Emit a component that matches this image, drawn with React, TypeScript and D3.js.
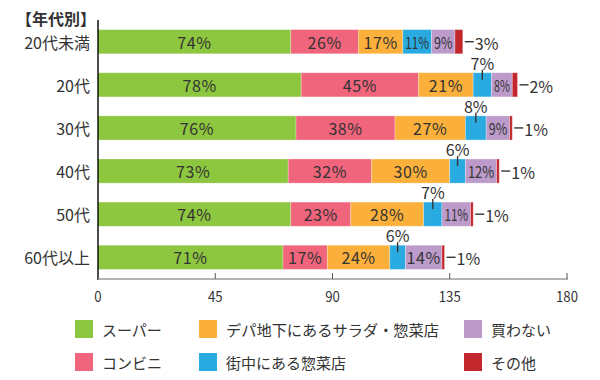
import React from "react";
import * as d3 from "d3";

const categories = ["20代未満", "20代", "30代", "40代", "50代", "60代以上"];
const seriesNames = ["スーパー", "コンビニ", "デパ地下にあるサラダ・惣菜店", "街中にある惣菜店", "買わない", "その他"];
const supermarket = [74, 78, 76, 73, 74, 71];
const convenience = [26, 45, 38, 32, 23, 17];
const depachika = [17, 21, 27, 30, 28, 24];
const streetShop = [11, 7, 8, 6, 7, 6];
const notBuy = [9, 8, 9, 12, 11, 14];
const other = [3, 2, 1, 1, 1, 1];
const xTicks = [0, 45, 90, 135, 180];

const colors = ["#8dc63f", "#f0647c", "#fbb03b", "#29abe2", "#bc9bca", "#c1272d"];
const series = [supermarket, convenience, depachika, streetShop, notBuy, other];

const FONT = "'Noto Sans CJK JP', 'Noto Sans', sans-serif";
const TXT = "#333";

export default function App() {
  const W = 600, H = 380;
  const x = d3.scaleLinear().domain([0, 180]).range([98, 567]);
  const y = d3.scaleBand().domain(categories).range([21, 278]).paddingInner(0.44).paddingOuter(0.2);
  const bh = y.bandwidth();

  const legendPos = [
    { x: 75, y: 320 }, { x: 75, y: 353 },
    { x: 199, y: 320 }, { x: 199, y: 353 },
    { x: 464, y: 320 }, { x: 464, y: 353 },
  ];

  return (
    <svg width={W} height={H} style={{ position: "absolute", left: 0, top: 0, fontFamily: FONT }}>
      <rect width={W} height={H} fill="#fff" />
      <text x={16} y={18} fontSize={16} fontWeight="bold" fill={TXT} dominantBaseline="central">【年代別】</text>
      {categories.map((c, i) => {
        const yy = y(c)!;
        let cum = 0;
        const segs = series.map((s, k) => {
          const v = s[i];
          const x0 = x(cum), x1 = x(cum + v);
          cum += v;
          return { v, x0, x1, k };
        });
        return (
          <g key={c}>
            <text x={90} y={yy + bh / 2} fontSize={16} fill={TXT} textAnchor="end" dominantBaseline="central">{c}</text>
            {segs.map((sg) => (
              <rect key={sg.k} x={sg.x0} y={yy} width={sg.x1 - sg.x0} height={bh} fill={colors[sg.k]}
                stroke="#fff" strokeOpacity={0.35} strokeWidth={0.8} />
            ))}
            {segs.map((sg) => {
              const cx = (sg.x0 + sg.x1) / 2;
              const label = `${sg.v}%`;
              const w = sg.x1 - sg.x0;
              if (sg.k === 5) {
                return (
                  <g key={sg.k}>
                    <line x1={sg.x1 + 2} x2={sg.x1 + 11} y1={yy + bh / 2} y2={yy + bh / 2} stroke={TXT} strokeWidth={1.4} />
                    <text x={sg.x1 + 12} y={yy + bh / 2 + 1} fontSize={16} fill={TXT} dominantBaseline="central">{label}</text>
                  </g>
                );
              }
              if (sg.k === 3 && sg.v < 10) {
                return (
                  <g key={sg.k}>
                    <line x1={cx} x2={cx} y1={yy - 3} y2={yy + 7} stroke={TXT} strokeWidth={1.4} />
                    <text x={cx} y={yy - 10} fontSize={16} fill={TXT} textAnchor="middle" dominantBaseline="central">{label}</text>
                  </g>
                );
              }
              const small = w < 32;
              return (
                <text key={sg.k} x={cx} y={yy + bh / 2} fontSize={16} fill={TXT}
                  textAnchor="middle" dominantBaseline="central"
                  textLength={small ? w - 5 : undefined} lengthAdjust="spacingAndGlyphs"
                  letterSpacing={small ? 0 : 0.6}>{label}</text>
              );
            })}
          </g>
        );
      })}
      <line x1={98} x2={98} y1={20} y2={280} stroke="#111" strokeWidth={1.5} />
      <line x1={98} x2={568} y1={279} y2={279} stroke="#999" strokeWidth={1.5} />
      {xTicks.map((t) => (
        <g key={t}>
          <line x1={x(t)} x2={x(t)} y1={273} y2={279} stroke="#555" strokeWidth={1} />
          <text x={x(t)} y={296} fontSize={15} fill={TXT} textAnchor="middle" dominantBaseline="central"
            transform={`translate(${x(t)},0) scale(0.88,1) translate(${-x(t)},0)`}>{t}</text>
        </g>
      ))}
      {seriesNames.map((n, k) => (
        <g key={n}>
          <rect x={legendPos[k].x} y={legendPos[k].y} width={18} height={18} fill={colors[k]} />
          <text x={legendPos[k].x + 27} y={legendPos[k].y + 9} fontSize={15} fill={TXT} dominantBaseline="central"
            textLength={k === 2 ? 213 : undefined} lengthAdjust="spacingAndGlyphs">{n}</text>
        </g>
      ))}
    </svg>
  );
}
